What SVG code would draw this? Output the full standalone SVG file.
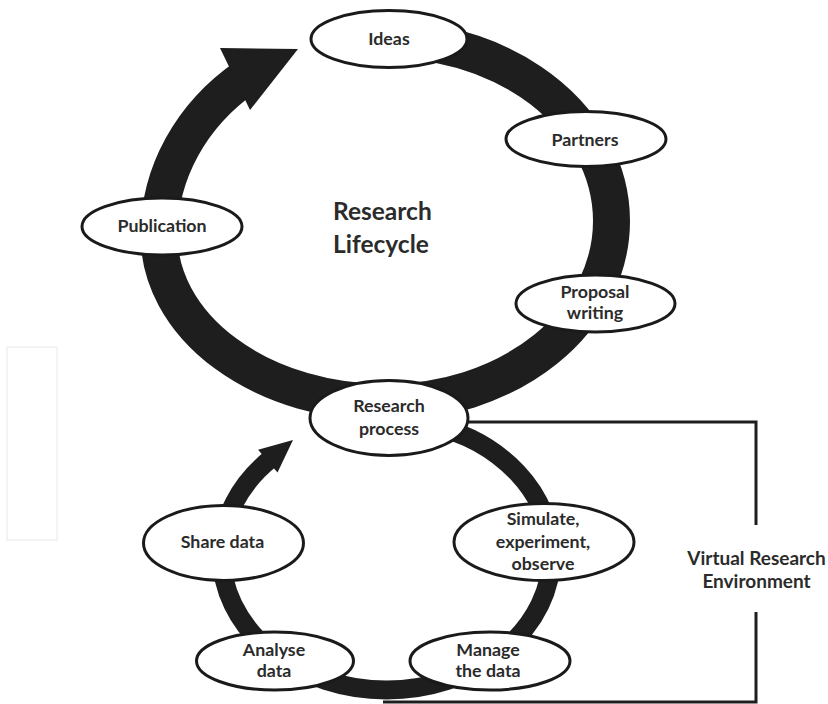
<svg xmlns="http://www.w3.org/2000/svg" width="828" height="704" viewBox="0 0 828 704">
  <style>
    .ring { fill: none; stroke: #1e1e1e; }
    .head { fill: #1e1e1e; stroke: none; }
    .bracket { fill: none; stroke: #1e1e1e; stroke-width: 3; }
    .node ellipse { fill: #ffffff; stroke: #1a1a1a; stroke-width: 3; }
    .node text, .label { font-family: Lato, "Liberation Sans", sans-serif; font-weight: 700; fill: #2b2b2b; }
    .node text { font-size: 17.8px; text-anchor: middle; }
    .title { font-size: 24.5px; }
    .vre { font-size: 19px; text-anchor: middle; }
  </style>
  <rect x="7" y="347" width="50" height="193" fill="none" stroke="#f0f0f0" stroke-width="1.5"/>
  <g id="connectors">
    <path class="ring" stroke-width="37" d="M 346.8 42.3 A 225.5 181.5 0 0 1 611.5 221 A 225.5 181.5 0 0 1 386 402.5 A 227 167.5 0 0 1 159 235 A 227 201 0 0 1 246.2 76.6"/>
    <polygon class="head" points="220,48 298,49 250,110"/>
    <path class="ring" stroke-width="19" d="M 429.2 424.6 A 165 135 0 0 1 551.5 555 A 165 135 0 0 1 386.5 690 A 165 135 0 0 1 221.5 555 A 165 135 0 0 1 270.85 458.7"/>
    <polygon class="head" points="258.1,449.8 293,439.9 277.5,472.6"/>
    <polyline class="bracket" points="460,422 756,422 756,525"/>
    <polyline class="bracket" points="756,612 756,702 383,702"/>
  </g>
  <g id="ideas" class="node">
    <ellipse cx="389" cy="39" rx="78" ry="28.5"/>
    <text x="389" y="45">Ideas</text>
  </g>
  <g id="partners" class="node">
    <ellipse cx="586" cy="139" rx="80" ry="27.5"/>
    <text x="585" y="146">Partners</text>
  </g>
  <g id="proposal-writing" class="node">
    <ellipse cx="595.5" cy="303.5" rx="79.5" ry="28.5"/>
    <text x="595" y="297.5">Proposal</text>
    <text x="595" y="319">writing</text>
  </g>
  <g id="publication" class="node">
    <ellipse cx="162" cy="226.5" rx="80" ry="28.5"/>
    <text x="162" y="232">Publication</text>
  </g>
  <g id="research-process" class="node">
    <ellipse cx="389" cy="418" rx="79" ry="37.5"/>
    <text x="389" y="412">Research</text>
    <text x="389" y="435">process</text>
  </g>
  <g id="share-data" class="node">
    <ellipse cx="223.5" cy="543" rx="80" ry="37.5"/>
    <text x="222.5" y="548">Share data</text>
  </g>
  <g id="simulate" class="node">
    <ellipse cx="544" cy="542" rx="90" ry="38.5"/>
    <text x="543" y="525">Simulate,</text>
    <text x="543" y="548">experiment,</text>
    <text x="543" y="570">observe</text>
  </g>
  <g id="analyse-data" class="node">
    <ellipse cx="275" cy="661" rx="78.5" ry="29"/>
    <text x="274" y="656">Analyse</text>
    <text x="274" y="677">data</text>
  </g>
  <g id="manage-data" class="node">
    <ellipse cx="490" cy="661" rx="80" ry="29"/>
    <text x="488" y="656">Manage</text>
    <text x="488" y="677">the data</text>
  </g>
  <g id="title">
    <text class="label title" x="333" y="220">Research</text>
    <text class="label title" x="333" y="253">Lifecycle</text>
  </g>
  <g id="vre">
    <text class="label vre" x="756.5" y="565">Virtual Research</text>
    <text class="label vre" x="756.5" y="588">Environment</text>
  </g>
</svg>
